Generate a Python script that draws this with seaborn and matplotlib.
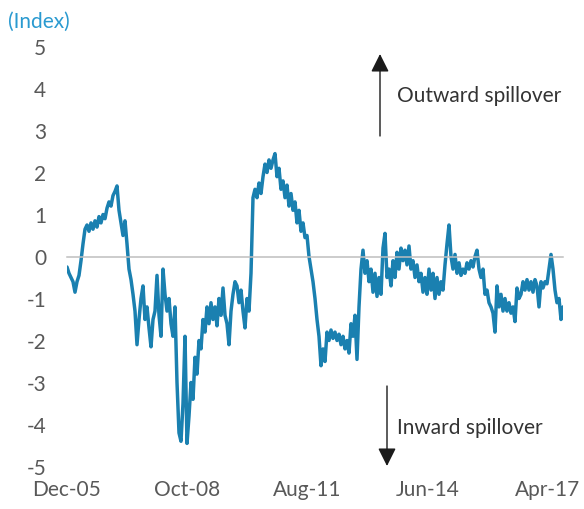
import matplotlib
matplotlib.use("Agg")
import matplotlib.pyplot as plt
import matplotlib.dates as mdates
import numpy as np
import pandas as pd
import seaborn as sns

# Spillover index, sampled roughly every two and a half weeks
spill_2005_2006 = [-0.25, -0.4, -0.5, -0.6, -0.85, -0.6, -0.45, -0.1, 0.3, 0.65,
                   0.75, 0.6, 0.8, 0.65, 0.85, 0.7, 0.95, 0.8, 1.0, 0.9, 1.15, 1.3,
                   1.2, 1.45, 1.55, 1.68]
spill_2007_2010 = [1.1, 0.8, 0.5, 0.85, 0.3, -0.3, -0.55, -0.9, -1.3, -2.1, -1.5,
                   -1.0, -0.7, -1.5, -1.2, -1.7, -2.15, -1.5, -1.3, -0.45, -1.4,
                   -1.9, -0.3, -0.9, -1.3, -1.0, -1.6, -1.9, -1.2, -3.0, -4.2, -4.4,
                   -3.5, -1.9, -4.45, -3.8, -3.0, -3.4, -2.4, -2.8, -2.0, -2.2, -1.5,
                   -1.8, -1.2, -1.6, -1.1, -1.5, -1.2, -1.65, -1.0, -1.4, -0.75,
                   -1.4, -1.6, -2.1, -1.3, -0.9, -0.6, -0.7, -1.1, -0.8, -1.3, -1.7,
                   -1.0, -1.3, -0.4]
spill_2010_2013 = [1.4, 1.6, 1.4, 1.75, 1.5, 1.9, 2.2, 2.0, 2.3, 2.1, 2.3, 2.45,
                   1.9, 2.1, 1.6, 1.8, 1.4, 1.7, 1.2, 1.5, 1.1, 1.3, 0.8, 1.1, 0.6,
                   0.8, 0.45, 0.5, 0.0, -0.3, -0.6, -1.0, -1.5, -1.9, -2.6, -2.2,
                   -2.5, -1.8, -2.0, -1.75, -1.95, -1.8, -2.0, -1.85, -2.1, -1.9,
                   -2.2, -2.0, -2.3, -1.6, -1.9, -1.4, -2.45, -1.2, -0.3]
spill_2013_2017 = [0.15, -0.4, -0.1, -0.6, -0.3, -0.85, -0.4, -0.95, -0.5, -0.9,
                   0.2, 0.55, -0.5, -0.3, -0.7, -0.1, -0.5, 0.1, -0.3, 0.2, -0.1,
                   0.15, -0.2, 0.25, -0.3, -0.1, -0.5, -0.2, -0.6, -0.4, -0.85, -0.5,
                   -0.9, -0.3, -0.8, -0.4, -1.0, -0.5, -0.9, -0.6, -0.8, -0.2, 0.3,
                   0.75, 0.0, -0.3, 0.05, -0.4, -0.15, -0.45, -0.3, -0.4, -0.15,
                   -0.3, -0.1, -0.25, 0.0, 0.15, -0.3, -0.5, -0.3, -0.9, -0.8, -1.1,
                   -1.2, -1.35, -1.8, -0.7, -1.2, -0.9, -1.3, -1.0, -1.3, -1.1,
                   -1.35, -1.2, -1.55, -0.75, -1.0, -0.9, -0.6, -0.8, -0.55, -0.8,
                   -0.6, -0.85, -0.55, -0.7, -1.2, -0.6, -0.75, -0.6, -0.65, -0.3,
                   0.05, -0.3, -0.8, -1.1, -1.0, -1.5, -1.2]

series_start = "2005-12-01"
series_end = "2017-08-08"

tick_labels = ["Dec-05", "Oct-08", "Aug-11", "Jun-14", "Apr-17"]
y_ticks = [5, 4, 3, 2, 1, 0, -1, -2, -3, -4, -5]

values = spill_2005_2006 + spill_2007_2010 + spill_2010_2013 + spill_2013_2017
dates = pd.date_range(series_start, series_end, periods=len(values))
df = pd.DataFrame({"date": dates, "index": values})
tick_dates = pd.to_datetime(tick_labels, format="%b-%y")

sns.set_style("white")
plt.rcParams["font.family"] = ["Lato", "DejaVu Sans"]

LINE = "#1a80b0"
BLUE = "#2a9ad0"
GREY_TXT = "#595959"
GREY_AX = "#bfbfbf"

W, H = 584, 510
fig = plt.figure(figsize=(W / 100, H / 100), dpi=100)
ax = fig.add_axes([67 / W, 1 - 467.5 / H, (563 - 67) / W, 420 / H])

sns.lineplot(data=df, x="date", y="index", ax=ax, color=LINE, linewidth=2.5)

ax.set_xlim(pd.Timestamp(series_start), pd.Timestamp(series_end))
ax.set_ylim(-5, 5)
ax.set_xlabel("")
ax.set_ylabel("")

# y axis: labels only
ax.set_yticks(y_ticks)
ax.set_yticklabels([str(v) for v in y_ticks])
ax.tick_params(axis="y", length=0, pad=15, labelsize=15, labelcolor=GREY_TXT)
for side in ("left", "right", "top"):
    ax.spines[side].set_visible(False)

# the x axis line sits on zero, with tick marks hanging below it
ax.spines["bottom"].set_position(("data", 0))
ax.spines["bottom"].set_color(GREY_AX)
ax.spines["bottom"].set_linewidth(1.1)
ax.set_xticks(tick_dates)
ax.tick_params(axis="x", direction="out", length=5, width=1.1, color=GREY_AX,
               labelbottom=False)

# date labels along the bottom edge
sec = ax.secondary_xaxis("bottom")
sec.set_xticks(mdates.date2num(tick_dates), labels=tick_labels)
sec.tick_params(length=0, pad=9, labelsize=15, labelcolor=GREY_TXT)
sec.spines["bottom"].set_visible(False)

fig.text(8 / W, 1 - 22 / H, "(Index)", color=BLUE, fontsize=15,
         ha="left", va="center")

arrow_kw = dict(arrowstyle="-|>,head_length=1.0,head_width=0.5",
                mutation_scale=11, color="#1a1a1a", lw=1.0,
                shrinkA=0, shrinkB=0)
ax.annotate("", xy=(380, H - 55), xytext=(380, H - 137),
            xycoords="figure pixels", textcoords="figure pixels",
            arrowprops=arrow_kw)
ax.annotate("", xy=(387, H - 467), xytext=(387, H - 387),
            xycoords="figure pixels", textcoords="figure pixels",
            arrowprops=arrow_kw)
fig.text(397 / W, 1 - 96 / H, "Outward spillover", color="#333333",
         fontsize=15, ha="left", va="center")
fig.text(397 / W, 1 - 428 / H, "Inward spillover", color="#333333",
         fontsize=15, ha="left", va="center")

fig.savefig("out.png", dpi=100)
